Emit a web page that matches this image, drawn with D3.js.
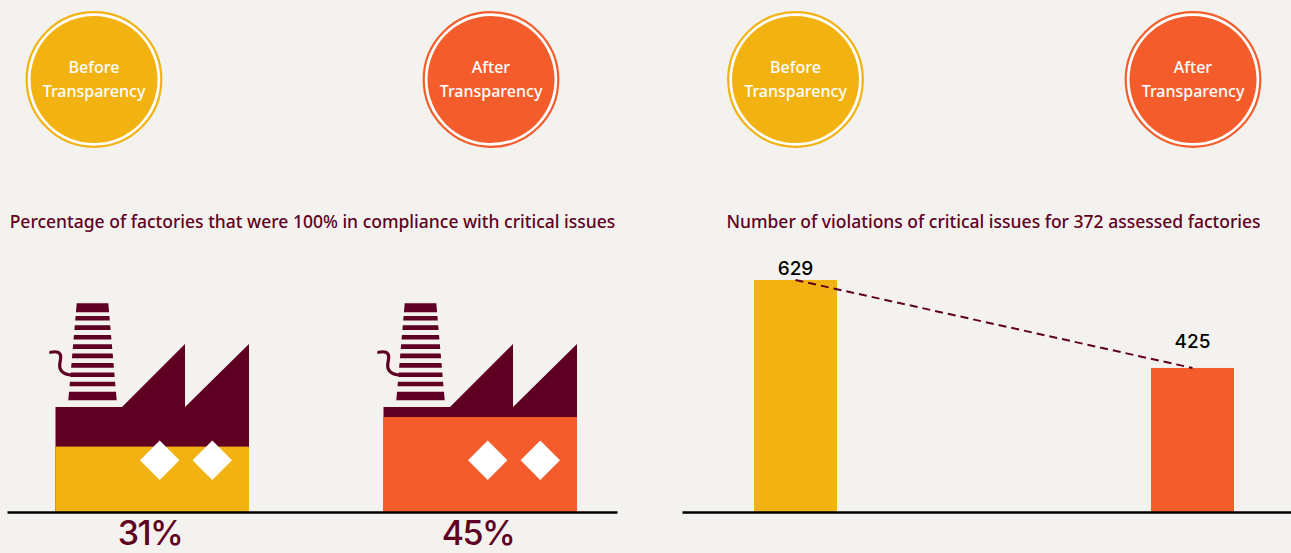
<!DOCTYPE html>
<html>
<head>
<meta charset="utf-8">
<script src="https://cdn.jsdelivr.net/npm/d3@7"></script>
<style>
  html, body { margin: 0; padding: 0; background: #f4f2ee; overflow: hidden; }
  svg { display: block; font-family: "Noto Sans", sans-serif; }
</style>
</head>
<body>
<div id="chart"></div>
<script>
var phases = ["Before", "After"]
var phaseColors = ["#f2b212", "#f45d2b"]
var badgeLines = ["Transparency"]
var compliance = [31, 45]
var complianceLabels = ["31%", "45%"]
var violations = [629, 425]
var complianceTitle = "Percentage of factories that were 100% in compliance with critical issues"
var violationsTitle = "Number of violations of critical issues for 372 assessed factories"

var maroon = "#5f0023"
var baseY = 512

var svg = d3.select("#chart").append("svg")
  .attr("width", 1291)
  .attr("height", 553)
  .attr("viewBox", "0 0 1291 553")

var color = d3.scaleOrdinal().domain(phases).range(phaseColors)

// factories sit on the left panel, bars on the right one
var xFactory = d3.scalePoint().domain(phases).range([55.5, 383.5])
var yPct = d3.scaleLinear().domain([0, 100]).range([baseY, 301])

var xBar = d3.scalePoint().domain(phases).range([754, 1151])
var barWidth = 83
// the picture's bars do not start at zero, so the domain doesn't either
var yBar = d3.scaleLinear().domain([91, 629]).range([baseY, 280])

// badges
var xBadge = d3.scaleOrdinal()
  .domain(["left-Before", "left-After", "right-Before", "right-After"])
  .range([94, 491, 795.5, 1193])

var badges = svg.selectAll(".badge")
  .data(xBadge.domain())
  .enter()
  .append("g")
  .attr("class", "badge")
  .attr("transform", d => "translate(" + xBadge(d) + ",79.5)")

badges.append("circle")
  .attr("r", 67.3)
  .attr("fill", "#fff")
  .attr("stroke", d => color(d.split("-")[1]))
  .attr("stroke-width", 2.2)

badges.append("circle")
  .attr("r", 63.5)
  .attr("fill", d => color(d.split("-")[1]))

badges.append("text")
  .text(d => d.split("-")[1])
  .attr("y", -7)
  .attr("text-anchor", "middle")
  .attr("fill", "#fff")
  .attr("font-size", 16)
  .attr("font-weight", 500)

badges.append("text")
  .text(badgeLines[0])
  .attr("y", 17)
  .attr("text-anchor", "middle")
  .attr("fill", "#fff")
  .attr("font-size", 16)
  .attr("font-weight", 500)

// titles
svg.append("text")
  .text(complianceTitle)
  .attr("x", 312.5)
  .attr("y", 228)
  .attr("text-anchor", "middle")
  .attr("fill", maroon)
  .attr("font-size", 17.5)
  .attr("font-weight", 500)

svg.append("text")
  .text(violationsTitle)
  .attr("x", 993.5)
  .attr("y", 228)
  .attr("text-anchor", "middle")
  .attr("fill", maroon)
  .attr("font-size", 17.5)
  .attr("font-weight", 500)

// factory icon, in its own units: origin is the bottom left corner
var factoryOutline = "M0,0V-105H66.5L129.5,-168V-105L193.5,-168V0Z"
var chimneyBands = [[-208.7, -199.7], [-196, -191.4], [-186.7, -182], [-177, -172.4], [-167.7, -163], [-158.4, -153.7], [-149, -144.3], [-139.6, -135], [-130.3, -125.7], [-120.3, -111.7]]
var smoke = "M-4.8,-159.7C1,-161 5,-160 5.2,-155.3C5.4,-150 2,-146 6,-141C9,-137.5 12,-137 18,-137"

// chimney narrows linearly from bottom to top
var chimneyHalf = d3.scaleLinear().domain([-111.7, -208.7]).range([24.2, 15.8])
var chimneyCx = 37

var factories = svg.selectAll(".factory")
  .data(phases)
  .enter()
  .append("g")
  .attr("class", "factory")
  .attr("transform", d => "translate(" + xFactory(d) + "," + baseY + ")")

factories.append("path")
  .attr("d", factoryOutline)
  .attr("fill", maroon)

factories.selectAll(".band")
  .data(chimneyBands)
  .enter()
  .append("path")
  .attr("class", "band")
  .attr("fill", maroon)
  .attr("d", b => d3.line()([
    [chimneyCx - chimneyHalf(b[0]), b[0]],
    [chimneyCx + chimneyHalf(b[0]), b[0]],
    [chimneyCx + chimneyHalf(b[1]), b[1]],
    [chimneyCx - chimneyHalf(b[1]), b[1]]
  ]) + "Z")

factories.append("path")
  .attr("d", smoke)
  .attr("fill", "none")
  .attr("stroke", maroon)
  .attr("stroke-width", 3.2)
  .attr("stroke-linecap", "round")

factories.append("rect")
  .attr("x", 0)
  .attr("width", 193.5)
  .attr("y", (d, i) => yPct(compliance[i]) - baseY)
  .attr("height", (d, i) => baseY - yPct(compliance[i]))
  .attr("fill", d => color(d))

var diamond = d3.symbol().type(d3.symbolSquare).size(2 * 19.7 * 19.7)

factories.selectAll(".window")
  .data([104.2, 156.8])
  .enter()
  .append("path")
  .attr("class", "window")
  .attr("d", diamond())
  .attr("transform", x => "translate(" + x + ",-51.7) rotate(45)")
  .attr("fill", "#fff")

// moved up a little so the text box stays inside the page
factories.append("text")
  .text((d, i) => complianceLabels[i])
  .attr("x", 94.5)
  .attr("y", 33)
  .attr("text-anchor", "middle")
  .attr("fill", maroon)
  .attr("font-size", 34)
  .attr("font-weight", 500)
  .attr("font-family", "Inter, sans-serif")
  .attr("letter-spacing", -1.5)

// bars
svg.selectAll(".bar")
  .data(phases)
  .enter()
  .append("rect")
  .attr("class", "bar")
  .attr("x", d => xBar(d))
  .attr("width", barWidth)
  .attr("y", (d, i) => yBar(violations[i]))
  .attr("height", (d, i) => baseY - yBar(violations[i]))
  .attr("fill", d => color(d))

var trend = d3.line()
  .x((d, i) => xBar(phases[i]) + barWidth / 2)
  .y(d => yBar(d))

svg.append("path")
  .attr("d", trend(violations))
  .attr("fill", "none")
  .attr("stroke", maroon)
  .attr("stroke-width", 2)
  .attr("stroke-dasharray", "8 5")

// the second label clears the dashed line, the first sits just over its bar
svg.selectAll(".bar-label")
  .data(violations)
  .enter()
  .append("text")
  .attr("class", "bar-label")
  .text(d => d)
  .attr("x", (d, i) => xBar(phases[i]) + barWidth / 2)
  .attr("y", (d, i) => yBar(d) - (i == 0 ? 5 : 20))
  .attr("text-anchor", "middle")
  .attr("fill", "#000")
  .attr("font-size", 19)
  .attr("font-weight", 500)
  .attr("font-family", "Inter, sans-serif")

// baselines
var leftAxis = d3.axisBottom(d3.scaleLinear().range([7, 617])).tickValues([]).tickSizeOuter(0)
var rightAxis = d3.axisBottom(d3.scaleLinear().range([682, 1291])).tickValues([]).tickSizeOuter(0)

svg.append("g").attr("transform", "translate(0," + baseY + ")").call(leftAxis)
  .select(".domain").attr("stroke", "#000").attr("stroke-width", 2.6)
svg.append("g").attr("transform", "translate(0," + baseY + ")").call(rightAxis)
  .select(".domain").attr("stroke", "#000").attr("stroke-width", 2.6)
</script>
</body>
</html>
